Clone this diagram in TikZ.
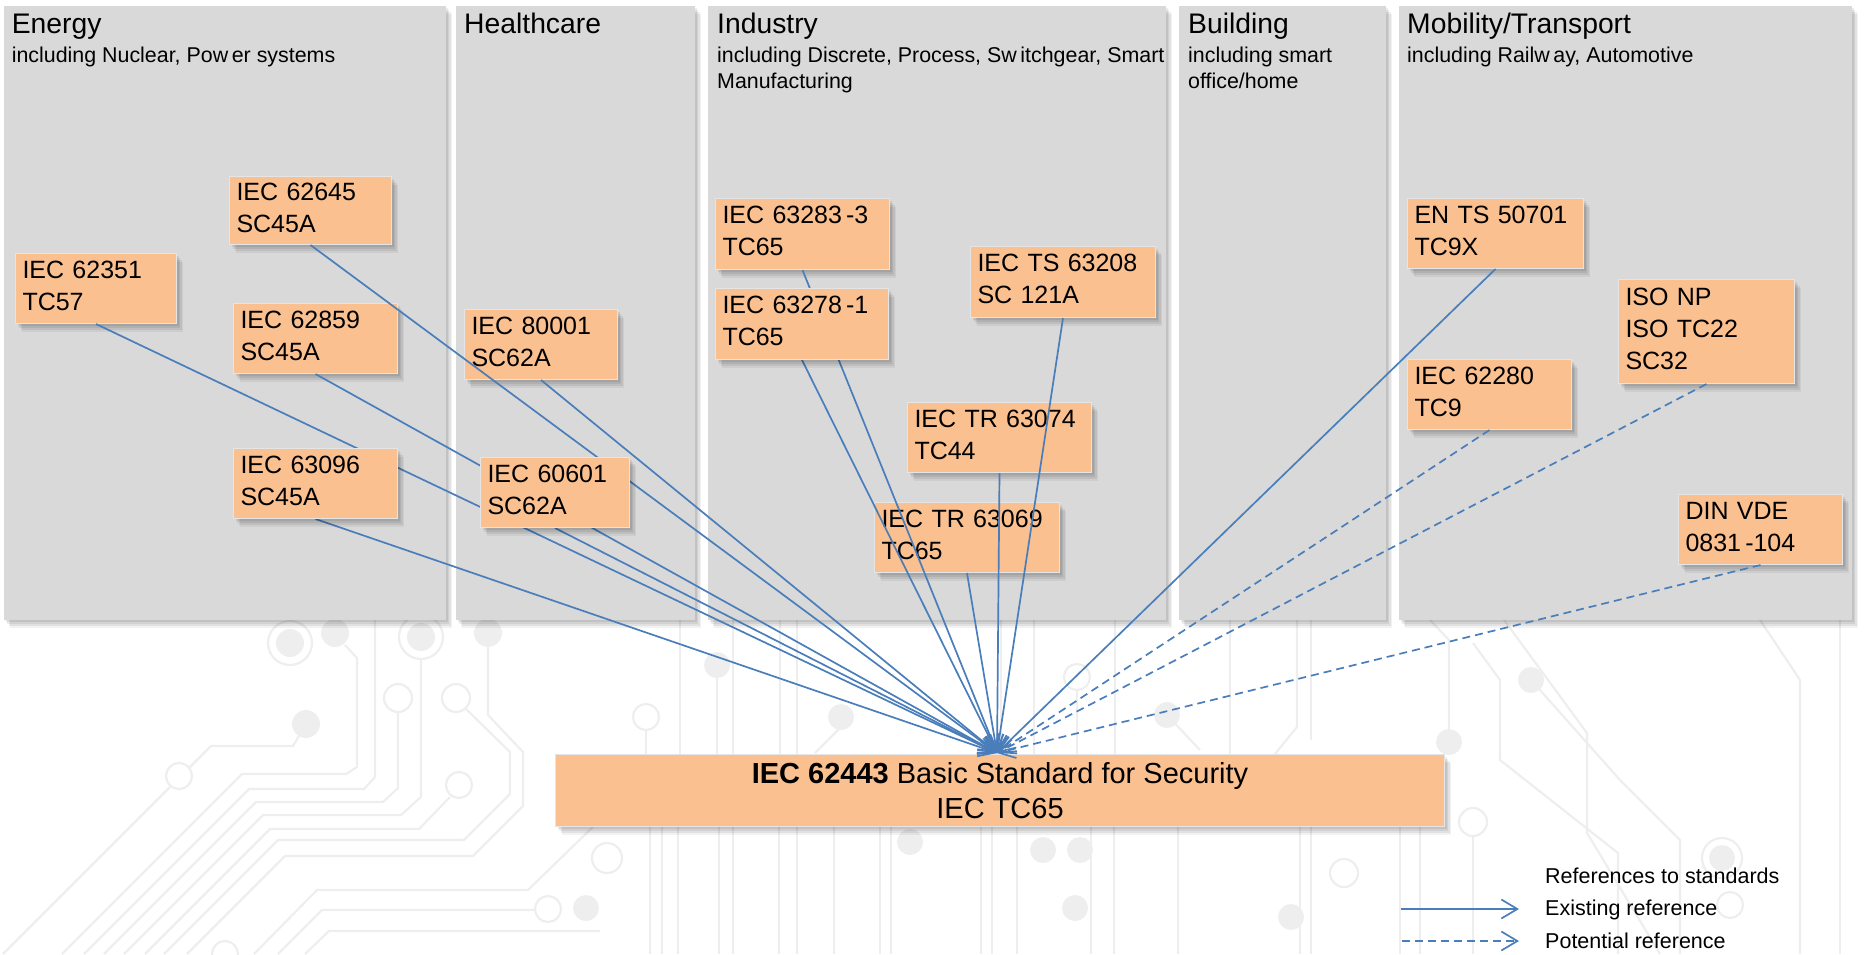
\documentclass[tikz,border=0pt]{standalone}
\usepackage{fontspec}
\setmainfont{Liberation Sans}
\usetikzlibrary{arrows.meta}

\definecolor{panelgray}{HTML}{D9D9D9}
\definecolor{boxorange}{HTML}{FAC090}
\definecolor{refblue}{HTML}{4A7EBB}
\definecolor{tracegray}{HTML}{EEEEEE}

\pgfdeclarelayer{bg}
\pgfdeclarelayer{front}
\pgfsetlayers{bg,main,front}

\tikzset{
	softshadow/.style={
		preaction={fill=black, opacity=.07, transform canvas={shift={(2pt,-2pt)}}},
		preaction={fill=black, opacity=.07, transform canvas={shift={(3pt,-4pt)}}},
		preaction={fill=black, opacity=.07, transform canvas={shift={(5pt,-6pt)}}},
		preaction={fill=black, opacity=.05, transform canvas={shift={(6pt,-8pt)}}}},
	panel/.style={anchor=north west, inner sep=0pt, fill=panelgray, softshadow},
	ptitle/.style={anchor=base west, inner sep=0pt, font=\fontsize{28.3}{34}\selectfont},
	psub/.style={anchor=base west, inner sep=0pt, font=\fontsize{21.4}{26}\selectfont},
	std/.style={anchor=north west, fill=boxorange, draw=black!10, line width=1pt,
		inner xsep=7pt, inner ysep=0pt, align=left, font=\fontsize{25}{32}\selectfont,
		softshadow,
		execute at begin node=\rule{0pt}{23pt},
		execute at end node=\rule[-12pt]{0pt}{12pt}},
	basic/.style={anchor=north west, fill=boxorange, draw=black!10, line width=1pt,
		align=center, font=\fontsize{29}{35}\selectfont, softshadow},
	ref/.style={refblue, line width=1.7pt, -{Straight Barb[length=16pt,width=19pt]}},
	potref/.style={ref, dash pattern=on 8pt off 5pt},
	legtext/.style={anchor=base west, inner sep=0pt, font=\fontsize{21.5}{26}\selectfont},
	trace/.style={draw=tracegray, line width=2.2pt},
	pad/.style={fill=tracegray}
}

\begin{document}
\begin{tikzpicture}[x=1pt,y=-1pt]
	\useasboundingbox (0,0) rectangle (1864,954);

	\begin{pgfonlayer}{bg}
	% circuit board pattern behind everything
	\draw[trace] (306,724) -- (293,746) -- (211,746) -- (189,768);
	\draw[trace] (179,776) circle (13);
	\draw[trace] (170,787) -- (3,954);
	\fill[pad] (306,724) circle (14);
	\fill[pad] (335,633) circle (14);
	\draw[trace] (345,645) -- (357,658) -- (357,767) -- (346,774) -- (242,774) -- (62,954);
	\draw[trace] (375,620) -- (375,777) -- (364,789) -- (249,789) -- (84,954);
	\draw[trace] (398,698) circle (14);
	\draw[trace] (398,712) -- (398,788) -- (383,802) -- (256,802) -- (104,954);
	\draw[trace] (421,637) circle (22);
	\fill[pad] (421,637) circle (14);
	\draw[trace] (421,659) -- (421,797) -- (401,815) -- (263,815) -- (124,954);
	\draw[trace] (459,785) circle (13);
	\draw[trace] (450,797) -- (419,829) -- (270,829) -- (145,954);
	\draw[trace] (456,698) circle (14);
	\draw[trace] (466,709) -- (510,752) -- (510,794) -- (464,840) -- (278,840) -- (164,954);
	\fill[pad] (488,633) circle (14);
	\draw[trace] (488,633) -- (488,715) -- (523,752) -- (523,806) -- (473,856) -- (285,856) -- (187,954);
	\draw[trace] (290,643) circle (22);
	\fill[pad] (290,643) circle (14);
	\draw[trace] (600,820) -- (528,890) -- (317,890) -- (254,954);
	\draw[trace] (548,909) circle (13);
	\draw[trace] (535,910) -- (322,910) -- (278,954);
	\draw[trace] (600,931) -- (329,931) -- (305,954);
	\draw[trace] (225,954) circle (13);
	% middle part
	\fill[pad] (717,665) circle (13);
	\draw[trace] (717,665) -- (717,760);
	\draw[trace] (646,717) circle (13);
	\draw[trace] (646,730) -- (646,760);
	\fill[pad] (841,717) circle (13);
	\draw[trace] (841,727) -- (815,753);
	\draw[trace] (1077,677) circle (13);
	\draw[trace] (1077,690) -- (1077,760);
	\fill[pad] (1167,715) circle (13);
	\draw[trace] (1167,715) -- (1200,750);
	\foreach \tx in {680,733,780,797,1001,1034,1115,1230}
		\draw[trace] (\tx,620) -- (\tx,760);
	\foreach \tx in {650,662,678,719,733,779,797,834,880,891,981,992,1017,1091,1114,1178,1300,1311,1400,1420}
		\draw[trace] (\tx,820) -- (\tx,954);
	\draw[trace] (607,858) circle (15);
	\fill[pad] (586,908) circle (13);
	\fill[pad] (910,842) circle (13);
	\fill[pad] (1043,850) circle (13);
	\fill[pad] (1080,850) circle (13);
	\fill[pad] (1075,908) circle (13);
	% right part
	\fill[pad] (1531,680) circle (13);
	\fill[pad] (1449,742) circle (13);
	\draw[trace] (1449,742) -- (1449,640) -- (1430,620);
	\draw[trace] (1473,822) circle (14);
	\draw[trace] (1344,873) circle (14);
	\fill[pad] (1291,917) circle (13);
	\draw[trace] (1722,858) circle (20);
	\fill[pad] (1722,858) circle (13);
	\draw[trace] (1730,905) circle (13);
	\draw[trace] (1297,620) -- (1297,727) -- (1270,760);
	\draw[trace] (1311,620) -- (1311,740);
	\draw[trace] (1473,643) -- (1500,680) -- (1500,760) -- (1618,853) -- (1618,954);
	\draw[trace] (1504,620) -- (1587,733) -- (1587,833) -- (1660,954);
	\draw[trace] (1531,680) -- (1620,780) -- (1680,840) -- (1680,954);
	\draw[trace] (1473,836) -- (1473,954);
	\draw[trace] (1760,620) -- (1800,680) -- (1800,954);
	\draw[trace] (1840,620) -- (1840,954);

	% sector panels
	\node[panel, minimum width=442pt, minimum height=614pt] (energy) at (3.6,6) {};
	\node[panel, minimum width=239pt, minimum height=614pt] (health) at (456,6) {};
	\node[panel, minimum width=458pt, minimum height=614pt] (industry) at (708,6) {};
	\node[panel, minimum width=207pt, minimum height=614pt] (building) at (1179,6) {};
	\node[panel, minimum width=453pt, minimum height=614pt] (mobility) at (1399,6) {};

	\node[ptitle] (energyT) at ([shift={(8,27)}]energy.north west) {Energy};
	\node[psub] (energyS) at ([shift={(8,56)}]energy.north west) {including Nuclear, Pow\,er systems};
	\node[ptitle] (healthT) at ([shift={(8,27)}]health.north west) {Healthcare};
	\node[ptitle] (industryT) at ([shift={(9,27)}]industry.north west) {Industry};
	\node[psub] (industryS) at ([shift={(9,56)}]industry.north west) {including Discrete, Process, Sw\,itchgear, Smart};
	\node[psub] (industryS2) at ([shift={(9,82)}]industry.north west) {Manufacturing};
	\node[ptitle] (buildingT) at ([shift={(9,27)}]building.north west) {Building};
	\node[psub] (buildingS) at ([shift={(9,56)}]building.north west) {including smart};
	\node[psub] (buildingS2) at ([shift={(9,82)}]building.north west) {office/home};
	\node[ptitle] (mobilityT) at ([shift={(8,27)}]mobility.north west) {Mobility/Transport};
	\node[psub] (mobilityS) at ([shift={(8,56)}]mobility.north west) {including Railw\,ay, Automotive};
	\end{pgfonlayer}

	% standards that lie under the arrows
	\node[std, text width=147pt, minimum height=70pt] (iec62351) at (15,253) {IEC 62351\\TC57};
	\node[std, text width=148pt, minimum height=68pt] (iec62645) at (229,176) {IEC 62645\\SC45A};
	\node[std, text width=150pt, minimum height=70pt] (iec62859) at (233,303) {IEC 62859\\SC45A};
	\node[std, text width=139pt, minimum height=70pt] (iec80001) at (464,309) {IEC 80001\\SC62A};
	\node[std, text width=160pt, minimum height=71pt] (iec63283) at (715,198) {IEC 63283\,-3\\TC65};
	\node[std, text width=171pt, minimum height=71pt] (iec63208) at (970,246) {IEC TS 63208\\SC 121A};
	\node[std, text width=170pt, minimum height=70pt] (iec63074) at (907,402) {IEC TR 63074\\TC44};
	\node[std, text width=171pt, minimum height=70pt] (iec63069) at (874,502) {IEC TR 63069\\TC65};
	\node[std, text width=162pt, minimum height=70pt] (en50701) at (1407,198) {EN TS 50701\\TC9X};
	\node[std, text width=162pt, minimum height=104pt] (isonp) at (1618,279) {ISO NP\\ISO TC22\\SC32};
	\node[std, text width=150pt, minimum height=70pt] (iec62280) at (1407,359) {IEC 62280\\TC9};
	\node[std, text width=150pt, minimum height=70pt] (dinvde) at (1678,494) {DIN VDE\\0831\,-104};

	% these three hide the arrows behind them
	\begin{pgfonlayer}{front}
	\node[std, text width=150pt, minimum height=70pt] (iec63096) at (233,448) {IEC 63096\\SC45A};
	\node[std, text width=135pt, minimum height=70pt] (iec60601) at (480,457) {IEC 60601\\SC62A};
	\node[std, text width=159pt, minimum height=71pt] (iec63278) at (715,288) {IEC 63278\,-1\\TC65};
	\end{pgfonlayer}

	% the basic standard
	\node[basic, minimum width=889pt, minimum height=72pt] (iec62443) at (555,754)
		{\textbf{IEC 62443} Basic Standard for Security\\IEC TC65};
	\coordinate (hub) at (997,753);

	% existing references
	\foreach \src in {iec62351,iec62645,iec62859,iec63096,iec80001,iec60601,
		iec63283,iec63278,iec63208,iec63074,iec63069,en50701}
		\draw[ref] (\src.south) -- (hub);

	% potential references
	\foreach \src in {iec62280,isonp,dinvde}
		\draw[potref] (\src.south) -- (hub);

	% legend
	\node[legtext] (legtitle) at (1545,883) {References to standards};
	\node[legtext] (legexist) at (1545,915) {Existing reference};
	\node[legtext] (legpot) at (1545,948) {Potential reference};
	\coordinate (exA) at (1401,909);
	\coordinate (exB) at (1519,909);
	\coordinate (potA) at (1402,941);
	\coordinate (potB) at (1519,941);
	\draw[ref] (exA) -- (exB);
	\draw[potref] (potA) -- (potB);

\end{tikzpicture}
\end{document}
